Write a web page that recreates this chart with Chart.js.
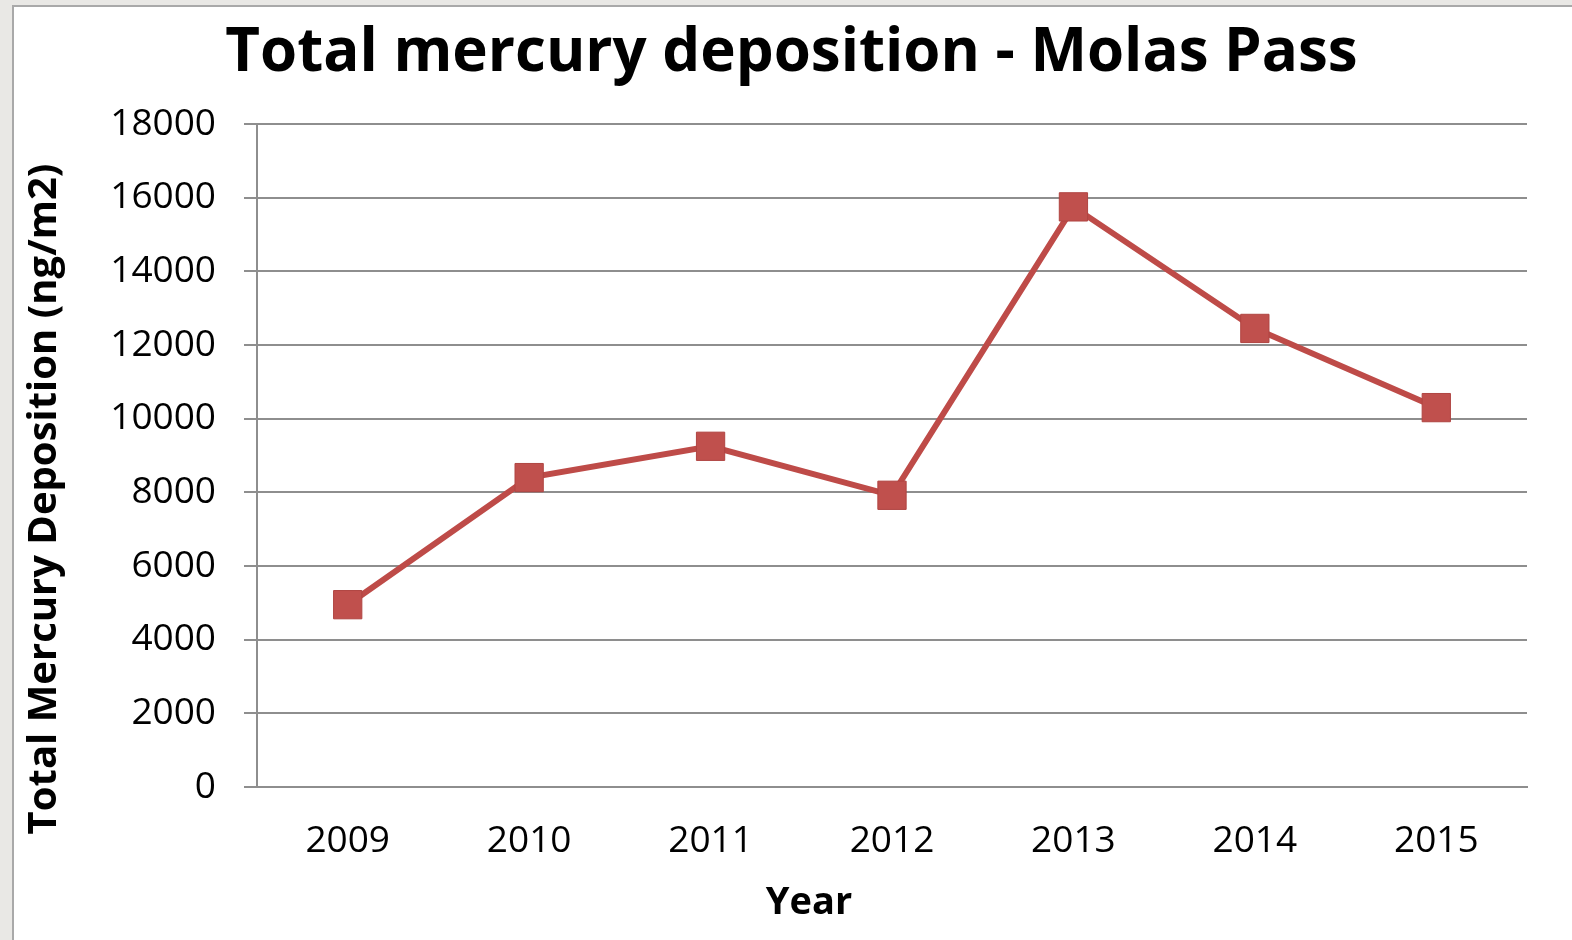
<!DOCTYPE html>
<html>
<head>
<meta charset="utf-8">
<script src="https://cdn.jsdelivr.net/npm/chart.js@4/dist/chart.umd.min.js"></script>
<style>
  html, body { margin: 0; padding: 0; background: #e9e8e5; overflow: hidden; }
  #frame {
    position: absolute; left: 12px; top: 5px; right: 0; bottom: 0;
    background: #fff; border-left: 2px solid #a9a9a9; border-top: 2px solid #a9a9a9;
  }
  #wrap { position: absolute; left: 0; top: 0; width: 1572px; height: 940px; }
</style>
</head>
<body>
<div id="frame"></div>
<div id="wrap"><canvas id="chart"></canvas></div>
<script>
// Molas Pass mercury deposition
const years = ['2009', '2010', '2011', '2012', '2013', '2014', '2015'];
const deposition = [4950, 8400, 9250, 7920, 15750, 12450, 10300];
const yTicks = [0, 2000, 4000, 6000, 8000, 10000, 12000, 14000, 16000, 18000];
const xTitle = 'Year';
const yTitle = 'Total Mercury Deposition (ng/m2)';

const FONT = "'Open Sans', 'DejaVu Sans', sans-serif";
const lineRed = '#be4b48';
const grid = '#8e8e8e';

// axis titles sit off-centre in the original, so they are drawn here
const axisTitles = {
  id: 'axisTitles',
  afterDraw(chart) {
    const { ctx } = chart;
    ctx.save();
    ctx.fillStyle = '#000';
    ctx.textAlign = 'center';
    ctx.textBaseline = 'middle';
    ctx.font = `bold 38px ${FONT}`;
    ctx.fillText(xTitle, 809, 903);
    ctx.translate(45, 499);
    ctx.rotate(-Math.PI / 2);
    ctx.font = `bold 40px ${FONT}`;
    ctx.fillText(yTitle, 0, 0);
    ctx.restore();
  },
};

new Chart(document.getElementById('chart'), {
  type: 'line',
  data: {
    labels: years,
    datasets: [{
      label: 'Total mercury deposition',
      data: deposition,
      borderColor: lineRed,
      backgroundColor: lineRed,
      borderWidth: 6,
      pointStyle: 'rect',
      pointRadius: 20,
      pointBorderWidth: 1,
      pointBorderColor: '#b04542',
      pointBackgroundColor: '#c0504d',
      tension: 0,
    }],
  },
  plugins: [axisTitles],
  options: {
    responsive: true,
    maintainAspectRatio: false,
    animation: false,
    layout: { padding: { left: 56, right: 45, top: 0, bottom: 0 } },
    plugins: {
      legend: { display: false },
      tooltip: { enabled: false },
      title: {
        display: true,
        text: 'Total mercury deposition - Molas Pass',
        color: '#000',
        font: { family: FONT, size: 60, weight: 'bold' },
        padding: { top: 18, bottom: 34 },
      },
    },
    scales: {
      x: {
        offset: true,
        grid: { display: false, drawTicks: false },
        border: { display: true, color: grid, width: 2 },
        ticks: { color: '#000', font: { family: FONT, size: 37 }, padding: 32 },
        afterFit: (s) => { s.height = 153; },
      },
      y: {
        min: 0,
        max: 18000,
        afterBuildTicks: (s) => { s.ticks = yTicks.map((v) => ({ value: v })); },
        grid: { color: grid, lineWidth: 2, drawTicks: true, tickLength: 13 },
        border: { display: true, color: grid, width: 2 },
        ticks: {
          color: '#000', font: { family: FONT, size: 37 }, padding: 28,
          callback: (v) => String(v),
        },
        afterFit: (s) => { s.width = 201; },
      },
    },
  },
});
</script>
</body>
</html>
